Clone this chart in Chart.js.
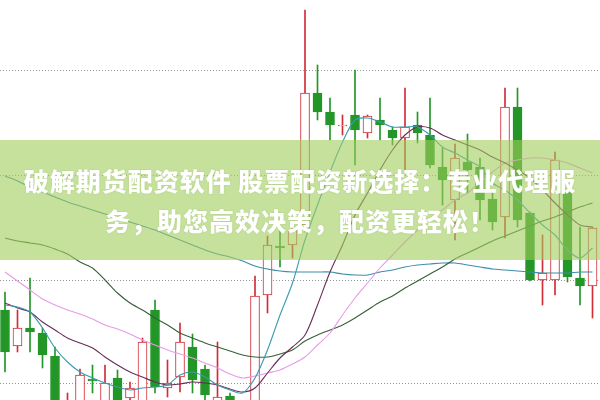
<!DOCTYPE html>
<html>
<head>
<meta charset="utf-8">
<script src="https://cdn.jsdelivr.net/npm/chart.js@4/dist/chart.umd.min.js"></script>
<style>
  html, body { margin: 0; padding: 0; background: #fff; }
  #wrap { position: relative; width: 600px; height: 400px; overflow: hidden; }
  #c { position: absolute; left: 0; top: 0; }
  #banner {
    position: absolute; left: 0; top: 140px; width: 600px; height: 120px;
    background: rgba(160, 205, 90, 0.6);
    display: flex; align-items: center; justify-content: center;
    text-align: center; color: #fff;
    font-family: "Noto Sans CJK SC", "Noto Sans", sans-serif;
    font-weight: 900; font-size: 25px; line-height: 40px; letter-spacing: 1px;
    text-shadow: 0 0 2px rgba(120,160,80,0.35);
  }
</style>
</head>
<body>
<div id="wrap">
  <canvas id="c" width="600" height="400"></canvas>
  <div id="banner"><div>破解期货配资软件 股票配资新选择：专业代理服<br>务，助您高效决策，配资更轻松！</div></div>
</div>
<script>
// Candle data (price units)
const openP  = [90,54,72,67,44,-20,-10,21,-2,22,2,-10,90,12,23,53,31,-3,4,-30,-10,105,154,155,175,307,288,274,285,267,280,270,262,275,265,233,200,238,233,201,183,293,187,120,120,210,122,114];
const closeP = [48,72,68,45,-12,-2,25,19,17,-3,12,58,13,17,58,20,5,3,-8,-12,104,155,152,170,307,288,275,275,270,284,275,262,273,267,235,220,242,230,200,178,293,180,120,127,240,123,114,172];
const highP  = [108,90,122,72,53,7,31,35,35,30,18,62,100,40,77,66,35,58,7,-5,124,164,170,178,390,335,302,285,330,285,302,273,312,288,302,252,256,266,242,208,312,312,188,165,248,212,173,173];
const lowP   = [28,48,48,32,-25,-30,-18,7,-10,-12,-5,-15,7,3,8,7,0,-10,-15,-40,-15,87,133,142,168,280,260,265,235,262,260,255,230,257,232,195,160,207,180,170,162,173,119,95,105,118,95,82];

// Moving averages
const ma5   = [95,93,88,72,52,38,28,22,17,13,10,12,13,15,25,28,23,15,10,7,22,50,85,117,160,195,228,258,280,282,278,273,273,273,265,253,247,240,233,217,210,200,187,175,165,150,142,152];
const ma10  = [97,92,88,78,70,62,57,52,43,35,28,23,18,15,16,18,17,15,11,8,12,27,42,53,65,95,128,155,185,207,230,250,265,273,272,265,260,255,250,243,237,230,222,210,197,185,175,173];
const ma20  = [128,119,110,101,95,90,86,81,75,71,66,60,55,50,46,42,37,32,26,22,24,27,30,36,43,55,67,85,102,117,132,145,158,170,182,190,200,207,218,228,237,240,242,242,240,237,232,227];
const ma60  = [162,159,157,155,151,146,138,132,120,107,97,90,82,75,67,62,57,53,49,45,43,43,46,50,59,65,70,75,82,90,98,104,112,119,126,133,141,147,153,159,164,169,174,179,183,188,193,197];
const ma120 = [224,219,213,208,203,198,194,190,186,182,178,174,170,165,160,155,150,146,143,139,134,131,129,128,128,128,128,126,125,125,128,130,133,135,136,137,137,135,133,131,130,129,128,127,127,127,128,128];

const gridValues = [17, 120, 225, 330];

const UP = 'rgb(210,45,55)';
const DOWN = 'rgb(35,150,40)';

const idx = openP.map((_, i) => i);
const isUp = i => closeP[i] >= openP[i];

const bodies = idx.map(i => ({ x: i, y: [openP[i], closeP[i]] }));
const wicks  = idx.map(i => ({ x: i, y: [lowP[i], highP[i]] }));
const line = arr => arr.map((v, i) => ({ x: i, y: v }));

const lineDs = (label, arr, color) => ({
  type: 'line', label, data: line(arr), borderColor: color, borderWidth: 1.1,
  pointRadius: 0, tension: 0.3, fill: false, order: 0
});

new Chart(document.getElementById('c'), {
  data: {
    datasets: [
      lineDs('MA5', ma5, 'rgb(55,155,175)'),
      lineDs('MA10', ma10, 'rgb(105,45,85)'),
      lineDs('MA20', ma20, 'rgb(230,155,230)'),
      lineDs('MA60', ma60, 'rgb(55,95,55)'),
      lineDs('MA120', ma120, 'rgb(60,140,170)'),
      {
        type: 'bar', label: 'body', data: bodies, order: 1, grouped: false,
        barThickness: 9, borderWidth: 1, borderSkipped: false,
        backgroundColor: ctx => isUp(ctx.dataIndex) ? '#ffffff' : DOWN,
        borderColor: ctx => isUp(ctx.dataIndex) ? UP : DOWN
      },
      {
        type: 'bar', label: 'wick', data: wicks, order: 2, grouped: false,
        barThickness: 1, borderWidth: 0, borderSkipped: false,
        backgroundColor: ctx => isUp(ctx.dataIndex) ? UP : DOWN
      }
    ]
  },
  options: {
    responsive: false, animation: false,
    layout: { padding: 0 },
    plugins: { legend: { display: false }, tooltip: { enabled: false } },
    scales: {
      x: { type: 'linear', min: -0.4, max: 47.6, display: false, offset: false },
      y: {
        type: 'linear', min: 0, max: 400, display: true,
        afterBuildTicks: s => { s.ticks = gridValues.map(v => ({ value: v })); },
        ticks: { display: false },
        grid: { color: 'rgb(150,150,150)', drawTicks: false, lineWidth: 1 },
        border: { display: false, dash: [1, 2] }
      }
    }
  }
});
</script>
</body>
</html>
